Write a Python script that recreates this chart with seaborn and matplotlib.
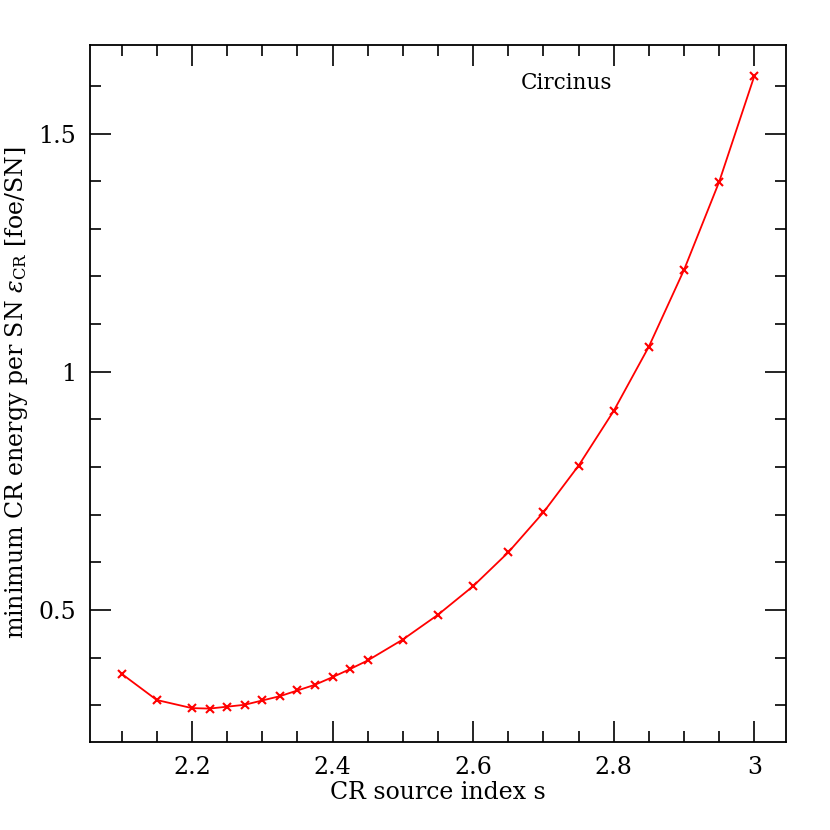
import numpy as np
import pandas as pd
import matplotlib
matplotlib.use("Agg")
import matplotlib.pyplot as plt
from matplotlib.ticker import MultipleLocator
import seaborn as sns

# CR source index s
index_s = [2.1, 2.15, 2.2, 2.225, 2.25, 2.275, 2.3, 2.325, 2.35, 2.375, 2.4,
           2.425, 2.45, 2.5, 2.55, 2.6, 2.65, 2.7, 2.75, 2.8, 2.85, 2.9,
           2.95, 3.0]
# minimum CR energy per SN [foe/SN]
eps_cr = [0.366, 0.311, 0.294, 0.293, 0.297, 0.301, 0.310, 0.319, 0.331,
          0.343, 0.359, 0.376, 0.394, 0.438, 0.490, 0.550, 0.621, 0.705,
          0.803, 0.918, 1.053, 1.214, 1.399, 1.621]

df = pd.DataFrame({"s": index_s, "eps": eps_cr})

sns.set_style("white")
plt.rcParams["font.family"] = ["DejaVu Serif", "DejaVu Sans"]
plt.rcParams["mathtext.fontset"] = "dejavuserif"
plt.rcParams["text.color"] = "black"
plt.rcParams["axes.labelcolor"] = "black"

fig = plt.figure(figsize=(8.3, 8.3), dpi=100)
ax = fig.add_axes([90 / 830, 1 - 741.7 / 830, 696 / 830, 697 / 830])

sns.lineplot(data=df, x="s", y="eps", ax=ax, color="red", linewidth=1.3,
             marker="x", markersize=6, markeredgewidth=1.5,
             markeredgecolor="red")

ax.set_xlim(2.055, 3.045)
ax.set_ylim(0.2235, 1.6865)

ax.xaxis.set_major_locator(MultipleLocator(0.2))
ax.xaxis.set_minor_locator(MultipleLocator(0.05))
ax.yaxis.set_major_locator(MultipleLocator(0.5))
ax.yaxis.set_minor_locator(MultipleLocator(0.1))
ax.xaxis.set_major_formatter(plt.FuncFormatter(lambda v, p: f"{v:g}"))
ax.yaxis.set_major_formatter(plt.FuncFormatter(lambda v, p: f"{v:g}"))

ax.tick_params(which="both", direction="in", bottom=True, left=True,
               top=True, right=True, colors="black", width=1.2,
               labelsize=17, labelcolor="black")
ax.tick_params(which="major", length=15, pad=10)
ax.tick_params(which="minor", length=8)
for sp in ax.spines.values():
    sp.set_linewidth(1.3)
    sp.set_color("black")

ax.set_xlabel("CR source index s", fontsize=17, labelpad=2, color="black")
ax.set_ylabel(r"minimum CR energy per SN $\epsilon_{\rm CR}$ [foe/SN]",
              fontsize=17, labelpad=6, color="black")

ax.text(0.684, 0.945, "Circinus", transform=ax.transAxes, ha="center",
        va="center", fontsize=15.5, color="black")

fig.savefig("out.png", dpi=100)
